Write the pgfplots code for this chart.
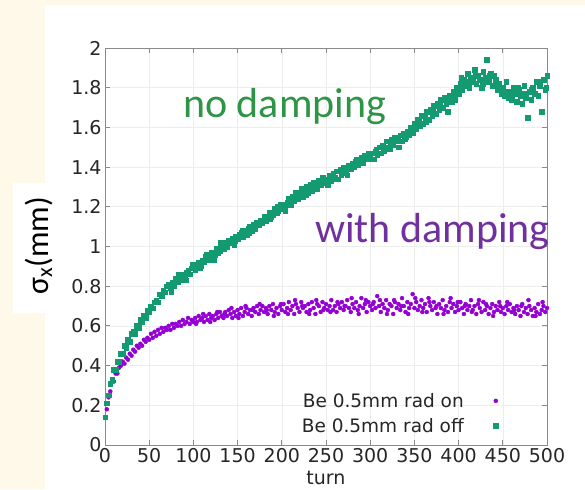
\documentclass[border=0pt]{standalone}
\usepackage{fontspec}
\setmainfont{DejaVu Sans}
\newfontfamily\calibri{Carlito}
\usepackage{pgfplots}
\pgfplotsset{compat=1.18}
\definecolor{bgcream}{HTML}{FFF9EA}
\definecolor{radon}{HTML}{9400D3}
\definecolor{radoff}{HTML}{139A70}
\definecolor{txtgreen}{HTML}{2E9446}
\definecolor{txtpurple}{HTML}{7030A0}
\definecolor{axgray}{HTML}{8A8A8A}
\definecolor{gridgray}{HTML}{EDEDED}
\pgfplotsset{wideleg/.style={legend image code/.code={\path[draw=none,fill=none] (0pt,-3pt) rectangle (36pt,3pt);
  \draw[##1] plot coordinates {(30pt,0pt)};}}}

\begin{document}
\begin{tikzpicture}[x=1pt,y=1pt]
\fill[bgcream] (0,0) rectangle (585,489);
\path[use as bounding box] (0,0) rectangle (585,489);
\fill[white] (45,0) rectangle (585,484);
\begin{axis}[at={(105pt,44pt)},anchor=south west,scale only axis,
 width=442pt,height=397pt,
 xmin=0,xmax=500,ymin=0,ymax=2,
 xtick={0,50,100,150,200,250,300,350,400,450,500},
 ytick={0,0.2,0.4,0.6,0.8,1,1.2,1.4,1.6,1.8,2},
 xtick pos=both,ytick pos=both,tick align=inside,
 major tick length=5pt,
 axis line style={axgray,line width=0.8pt},
 tick style={axgray,line width=0.8pt},
 grid=major,major grid style={gridgray,line width=0.6pt},
 /pgf/number format/assume math mode=true,
 tick label style={font=\fontsize{19}{22}\selectfont,color=black!85},
 xlabel={turn},xlabel style={font=\fontsize{19}{22}\selectfont,color=black!85,yshift=-1pt},
 legend plot pos=right,
 legend cell align=right,
 legend style={draw=none,fill=none,at={(0.905,0.02)},anchor=south east,
  font=\fontsize{18.5}{22}\selectfont,
  nodes={text height=14pt,text depth=0pt,inner sep=2pt},row sep=7pt,text=black!85},
]
\addplot[only marks,mark=*,mark size=2pt,color=radon,wideleg] coordinates {
(0,0.14) (2,0.18) (4,0.24) (6,0.27) (8,0.32) (10,0.32) (12,0.36) (14,0.36) (16,0.39) (18,0.40)
(20,0.42) (22,0.41) (24,0.44) (26,0.43) (28,0.46) (30,0.45) (32,0.48) (34,0.47) (36,0.50) (38,0.49)
(40,0.51) (42,0.50) (44,0.53) (46,0.52) (48,0.54) (50,0.53) (52,0.56) (54,0.54) (56,0.57) (58,0.55)
(60,0.58) (62,0.56) (64,0.59) (66,0.57) (68,0.59) (70,0.58) (72,0.60) (74,0.58) (76,0.61) (78,0.59)
(80,0.61) (82,0.60) (84,0.62) (86,0.60) (88,0.63) (90,0.61) (92,0.62) (94,0.64) (96,0.61) (98,0.63)
(100,0.62) (102,0.64) (104,0.62) (106,0.65) (108,0.63) (110,0.64) (112,0.62) (114,0.65) (116,0.63) (118,0.66)
(120,0.64) (122,0.65) (124,0.63) (126,0.66) (128,0.64) (130,0.67) (132,0.65) (134,0.64) (136,0.67) (138,0.65)
(140,0.68) (142,0.66) (144,0.64) (146,0.67) (148,0.65) (150,0.68) (152,0.66) (154,0.69) (156,0.65) (158,0.67)
(160,0.69) (162,0.66) (164,0.68) (166,0.65) (168,0.69) (170,0.67) (172,0.70) (174,0.66) (176,0.68) (178,0.70)
(180,0.67) (182,0.69) (184,0.66) (186,0.70) (188,0.68) (190,0.71) (192,0.67) (194,0.69) (196,0.66) (198,0.70)
(200,0.68) (202,0.71) (204,0.67) (206,0.69) (208,0.72) (210,0.68) (212,0.70) (214,0.66) (216,0.71) (218,0.69)
(220,0.67) (222,0.72) (224,0.69) (226,0.70) (228,0.67) (230,0.71) (232,0.68) (234,0.72) (236,0.69) (238,0.66)
(240,0.71) (242,0.70) (244,0.67) (246,0.72) (248,0.69) (250,0.71) (252,0.68) (254,0.70) (256,0.73) (258,0.68)
(260,0.70) (262,0.67) (264,0.71) (266,0.69) (268,0.72) (270,0.68) (272,0.70) (274,0.73) (276,0.69) (278,0.67)
(280,0.71) (282,0.69) (284,0.72) (286,0.68) (288,0.70) (290,0.74) (292,0.69) (294,0.71) (296,0.67) (298,0.72)
(300,0.70) (302,0.68) (304,0.72) (306,0.69) (308,0.75) (310,0.70) (312,0.67) (314,0.71) (316,0.69) (318,0.73)
(320,0.68) (322,0.71) (324,0.70) (326,0.66) (328,0.72) (330,0.69) (332,0.71) (334,0.68) (336,0.74) (338,0.70)
(340,0.67) (342,0.72) (344,0.69) (346,0.71) (348,0.76) (350,0.69) (352,0.72) (354,0.68) (356,0.70) (358,0.73)
(360,0.69) (362,0.71) (364,0.67) (366,0.74) (368,0.70) (370,0.68) (372,0.72) (374,0.69) (376,0.66) (378,0.71)
(380,0.69) (382,0.73) (384,0.68) (386,0.70) (388,0.67) (390,0.72) (392,0.69) (394,0.71) (396,0.67) (398,0.70)
(400,0.68) (402,0.72) (404,0.69) (406,0.66) (408,0.71) (410,0.68) (412,0.70) (414,0.73) (416,0.68) (418,0.70)
(420,0.66) (422,0.71) (424,0.69) (426,0.67) (428,0.72) (430,0.68) (432,0.70) (434,0.66) (436,0.69) (438,0.71)
(440,0.67) (442,0.70) (444,0.68) (446,0.72) (448,0.67) (450,0.69) (452,0.66) (454,0.70) (456,0.68) (458,0.71)
(460,0.67) (462,0.69) (464,0.66) (466,0.70) (468,0.68) (470,0.65) (472,0.71) (474,0.67) (476,0.69) (478,0.66)
(480,0.70) (482,0.68) (484,0.65) (486,0.69) (488,0.67) (490,0.71) (492,0.66) (494,0.68) (496,0.70) (498,0.67)
(500,0.69)
(103,0.61) (111,0.66) (119,0.62) (127,0.67) (135,0.66) (143,0.69) (151,0.64) (159,0.70) (167,0.68) (175,0.71)
(183,0.68) (191,0.65) (199,0.71) (207,0.66) (215,0.73) (223,0.70) (231,0.66) (239,0.73) (247,0.68) (255,0.67)
(263,0.72) (271,0.70) (279,0.74) (287,0.66) (295,0.73) (303,0.71) (311,0.73) (319,0.66) (327,0.73) (335,0.70)
(343,0.66) (351,0.74) (359,0.67) (367,0.72) (375,0.70) (383,0.66) (391,0.74) (399,0.72) (407,0.70) (415,0.67)
(423,0.73) (431,0.71) (439,0.65) (447,0.70) (455,0.72) (463,0.68) (471,0.70) (479,0.73) (487,0.65) (495,0.72)};
\addlegendentry{Be 0.5mm rad on}
\addplot[only marks,mark=square*,mark size=2.3pt,color=radoff,wideleg] coordinates {
(0,0.14) (2,0.21) (4,0.25) (6,0.31) (8,0.33) (10,0.38) (12,0.38) (14,0.42) (16,0.42) (18,0.46)
(20,0.46) (22,0.50) (24,0.49) (26,0.53) (28,0.52) (30,0.56) (32,0.57) (34,0.56) (36,0.60) (38,0.59)
(40,0.63) (42,0.62) (44,0.65) (46,0.64) (48,0.68) (50,0.67) (52,0.70) (54,0.69) (56,0.72) (58,0.73)
(60,0.72) (62,0.76) (64,0.75) (66,0.78) (68,0.77) (70,0.80) (72,0.81) (74,0.79) (76,0.82) (78,0.80)
(80,0.84) (82,0.82) (84,0.85) (86,0.83) (88,0.86) (90,0.85) (92,0.87) (94,0.88) (96,0.86) (98,0.89)
(100,0.90) (102,0.88) (104,0.91) (106,0.92) (108,0.90) (110,0.93) (112,0.92) (114,0.95) (116,0.93) (118,0.94)
(120,0.97) (122,0.95) (124,0.96) (126,0.99) (128,0.97) (130,0.98) (132,1.01) (134,0.99) (136,1.02) (138,1.00)
(140,1.03) (142,1.02) (144,1.04) (146,1.01) (148,1.05) (150,1.04) (152,1.06) (154,1.07) (156,1.05) (158,1.08)
(160,1.06) (162,1.09) (164,1.10) (166,1.08) (168,1.11) (170,1.09) (172,1.12) (174,1.11) (176,1.13) (178,1.12)
(180,1.15) (182,1.13) (184,1.14) (186,1.17) (188,1.15) (190,1.16) (192,1.19) (194,1.17) (196,1.18) (198,1.21)
(200,1.19) (202,1.21) (204,1.18) (206,1.22) (208,1.24) (210,1.21) (212,1.25) (214,1.23) (216,1.27) (218,1.24)
(220,1.26) (222,1.29) (224,1.25) (226,1.28) (228,1.30) (230,1.27) (232,1.31) (234,1.28) (236,1.32) (238,1.30)
(240,1.29) (242,1.33) (244,1.31) (246,1.35) (248,1.32) (250,1.34) (252,1.31) (254,1.36) (256,1.33) (258,1.37)
(260,1.35) (262,1.38) (264,1.34) (266,1.39) (268,1.37) (270,1.40) (272,1.38) (274,1.36) (276,1.41) (278,1.39)
(280,1.42) (282,1.40) (284,1.44) (286,1.41) (288,1.43) (290,1.45) (292,1.42) (294,1.46) (296,1.44) (298,1.47)
(300,1.45) (302,1.47) (304,1.44) (306,1.48) (308,1.46) (310,1.50) (312,1.47) (314,1.51) (316,1.48) (318,1.53)
(320,1.50) (322,1.49) (324,1.54) (326,1.51) (328,1.55) (330,1.53) (332,1.50) (334,1.56) (336,1.53) (338,1.57)
(340,1.55) (342,1.58) (344,1.56) (346,1.60) (348,1.57) (350,1.62) (352,1.59) (354,1.64) (356,1.61) (358,1.66)
(360,1.62) (362,1.65) (364,1.68) (366,1.64) (368,1.69) (370,1.66) (372,1.71) (374,1.67) (376,1.72) (378,1.69)
(380,1.74) (382,1.70) (384,1.75) (386,1.72) (388,1.68) (390,1.76) (392,1.73) (394,1.78) (396,1.74) (398,1.80)
(400,1.77) (402,1.82) (404,1.79) (406,1.84) (408,1.81) (410,1.87) (412,1.80) (414,1.85) (416,1.83) (418,1.89)
(420,1.82) (422,1.86) (424,1.84) (426,1.80) (428,1.88) (430,1.85) (432,1.94) (434,1.83) (436,1.87) (438,1.81)
(440,1.86) (442,1.84) (444,1.79) (446,1.82) (448,1.77) (450,1.80) (452,1.76) (454,1.83) (456,1.75) (458,1.78)
(460,1.74) (462,1.80) (464,1.77) (466,1.73) (468,1.79) (470,1.76) (472,1.72) (474,1.81) (476,1.75) (478,1.65)
(480,1.78) (482,1.74) (484,1.80) (486,1.77) (488,1.83) (490,1.76) (492,1.81) (494,1.68) (496,1.84) (498,1.79)
(500,1.86)
(75,0.77) (83,0.86) (91,0.83) (99,0.91) (107,0.89) (115,0.96) (123,0.93) (131,1.02) (139,1.02) (147,1.03)
(155,1.08) (163,1.07) (171,1.12) (179,1.13) (187,1.14) (195,1.20) (203,1.20) (211,1.23) (219,1.27) (227,1.26)
(235,1.30) (243,1.33) (251,1.32) (259,1.34) (267,1.36) (275,1.40) (283,1.43) (291,1.43) (299,1.44) (307,1.49)
(315,1.49) (323,1.52) (331,1.55) (339,1.54) (347,1.58) (355,1.63) (363,1.63) (371,1.69) (379,1.72) (387,1.74)
(395,1.77) (403,1.85) (411,1.83) (419,1.86) (427,1.82) (435,1.86) (443,1.81) (451,1.78) (459,1.77) (467,1.80)
(475,1.77) (483,1.79) (491,1.83) (499,1.80)};
\addlegendentry{Be 0.5mm rad off}
\end{axis}
% y label on its white box
\fill[white] (13,176) rectangle (65,306);
\node[rotate=90,inner sep=0pt,font=\calibri\fontsize{32}{38}\selectfont] at (39,243) {σ\textsubscript{x}(mm)};
% annotations
\node[anchor=base west,inner sep=0pt,text=txtgreen,font=\calibri\fontsize{42}{48}\selectfont] at (183,371) {no damping};
\node[anchor=base west,inner sep=0pt,text=txtpurple,font=\calibri\fontsize{42}{48}\selectfont] at (315,246) {with damping};
\end{tikzpicture}
\end{document}
